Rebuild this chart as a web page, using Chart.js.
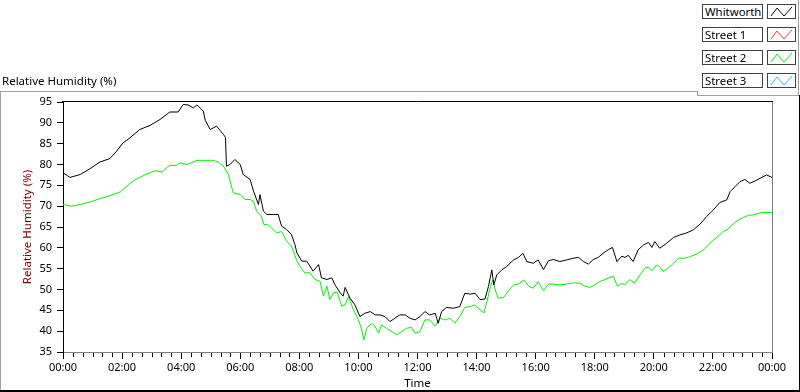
<!DOCTYPE html>
<html><head><meta charset="utf-8">
<script src="https://cdn.jsdelivr.net/npm/chart.js@4.4.1/dist/chart.umd.min.js"></script>
<style>
html,body{margin:0;padding:0;background:#fff;overflow:hidden}
#wrap{position:relative;width:800px;height:392px;font-family:"Noto Sans",sans-serif}
canvas{position:absolute;left:0;top:0}
.ln{position:absolute;pointer-events:none}
.lab{position:absolute;left:702px;width:61px;height:15px;box-sizing:border-box;border:1px solid #404040;font-size:11.4px;line-height:13px;padding-left:2px;color:#000;white-space:nowrap;overflow:hidden;background:#fff}
.sw{position:absolute;left:767px;width:29px;height:15px;box-sizing:border-box;border:1px solid #404040;background:#fff}
.sw svg{position:absolute;left:0;top:0}
#title{position:absolute;left:2px;top:74px;font-size:11.5px;line-height:14px;color:#000;white-space:nowrap}
</style></head>
<body>
<div id="wrap">
<canvas id="c" width="800" height="392"></canvas>
<div id="title">Relative Humidity (%)</div>
<div class="ln" style="left:0;top:91px;width:698px;height:1px;background:#a0a0a0"></div>
<div class="ln" style="left:697px;top:91px;width:1px;height:5px;background:#a0a0a0"></div>
<div class="ln" style="left:697px;top:95px;width:102px;height:1px;background:#a0a0a0"></div>
<div class="ln" style="left:798px;top:0;width:1px;height:96px;background:#a0a0a0"></div>
<div class="ln" style="left:0;top:91px;width:1px;height:301px;background:#a0a0a0"></div>
<div class="ln" style="left:0;top:390px;width:800px;height:2px;background:#000"></div>
<div class="ln" style="left:799px;top:95px;width:1px;height:297px;background:#000"></div>
<div id="legend"></div>
</div>
<script>
// ---- data ----
const seriesNames = ['Whitworth', 'Street 1', 'Street 2', 'Street 3'];
const seriesColors = ['#000000', '#ff3a3a', '#00f000', '#30b8ff'];
const xTickLabels = ['00:00','02:00','04:00','06:00','08:00','10:00','12:00','14:00','16:00','18:00','20:00','22:00','00:00'];
const minorStep = 20; // minutes between minor x ticks

// minutes since midnight
const timeW = [0,14,35,55,75,95,109,122,136,156,
177,197,217,234,244,254,265,272,282,285,
289,299,312,326,330,332,339,349,360,366,
380,387,397,400,407,414,427,437,444,454,
464,471,475,485,495,508,519,525,536,546,
552,563,569,573,583,593,603,613,624,634,
644,654,664,674,684,695,705,715,725,735,
745,756,762,769,779,793,806,816,827,837,
847,857,864,871,875,881,891,901,915,925,
934,942,955,965,976,986,996,1009,1023,1036,
1047,1057,1067,1077,1087,1097,1108,1116,1125,1135,
1141,1148,1158,1168,1179,1189,1196,1202,1212,1226,
1240,1253,1267,1280,1294,1307,1321,1334,1348,1355,
1365,1375,1385,1395,1405,1416,1429,1440];
const whitworth = [78.0,76.9,77.6,79.0,80.6,81.4,83.2,85.2,86.4,88.4,
89.4,90.8,92.6,92.6,94.4,94.3,93.6,94.3,93.2,92.8,
90.6,88.4,89.2,87.2,86.5,79.6,80.0,81.2,80.0,77.6,
76.4,73.6,70.4,72.8,68.8,68.0,68.0,68.0,65.2,64.4,
63.2,60.8,58.8,56.8,56.8,54.4,56.0,52.8,52.4,52.8,
51.2,49.2,48.4,50.5,47.9,46.3,43.5,44.3,44.7,43.9,
43.9,43.5,42.3,43.1,43.9,43.9,43.1,42.7,43.5,44.7,
43.9,44.3,41.9,44.7,45.7,45.5,45.9,49.1,48.9,49.1,
47.6,47.7,50.7,54.7,51.1,53.5,54.7,55.5,57.1,57.7,
58.7,56.7,56.3,57.1,54.8,56.9,57.2,56.7,57.1,57.5,
57.7,56.7,56.1,57.2,57.7,58.7,59.6,60.1,56.7,58.0,
57.7,58.2,56.7,59.5,60.7,61.3,60.1,61.5,59.9,61.1,
62.5,63.1,63.6,64.3,65.7,67.5,69.1,70.9,71.5,73.5,
74.7,75.9,76.4,75.5,76.0,76.7,77.5,76.9];

const timeS2 = [0,17,35,55,75,95,116,130,143,156,
170,187,201,217,231,238,252,265,272,286,
305,315,326,336,343,346,360,370,380,387,
393,403,408,417,427,434,444,454,464,475,
481,491,502,512,522,529,536,542,549,557,
566,573,580,590,600,606,611,617,627,634,
641,647,657,668,678,688,698,708,715,725,
735,745,756,766,776,786,796,806,816,827,
837,847,855,862,868,873,878,884,895,905,
915,925,936,946,955,965,976,986,996,1009,
1023,1036,1050,1060,1070,1080,1090,1101,1111,1118,
1126,1135,1141,1151,1161,1172,1182,1189,1196,1206,
1212,1219,1229,1240,1250,1263,1274,1287,1301,1314,
1328,1341,1351,1361,1372,1382,1392,1402,1416,1429,
1440];
const street2 = [70.4,70.0,70.4,71.0,71.8,72.5,73.4,74.8,76.1,76.9,
77.7,78.5,78.2,79.8,79.8,80.4,80.0,80.6,81.0,81.0,
81.0,80.6,79.6,77.6,74.4,73.2,72.8,71.6,71.6,71.2,
68.8,67.6,65.6,65.5,64.4,63.6,63.9,61.7,60.4,56.9,
55.6,54.0,54.0,52.4,52.0,48.4,50.8,47.6,49.2,49.4,
46.0,46.3,48.3,45.1,42.7,40.7,37.9,40.7,41.9,41.1,
39.5,41.5,40.7,39.9,39.1,39.9,40.7,40.9,39.5,39.9,
42.7,42.7,41.2,43.1,42.7,43.1,41.9,43.5,45.7,45.9,
46.3,45.1,44.4,47.5,50.7,52.3,49.9,47.9,48.1,49.7,
51.1,51.3,52.3,50.8,50.3,51.9,49.7,51.3,51.3,51.1,
51.3,51.6,51.5,50.8,50.5,51.1,51.9,52.4,52.9,53.2,
50.8,51.5,51.1,52.4,51.5,53.5,55.1,55.4,54.5,55.9,
55.5,54.3,55.1,56.3,57.5,57.5,57.9,58.5,59.5,61.1,
62.5,63.9,64.5,65.7,66.7,67.3,67.8,67.9,68.4,68.5,
68.5];
const street1 = [];
const street3 = [];

// ---- legend (HTML) ----
const legendEl = document.getElementById('legend');
seriesNames.forEach((n, i) => {
  const top = 4 + 23 * i;
  const lab = document.createElement('div');
  lab.className = 'lab'; lab.style.top = top + 'px'; lab.textContent = n;
  legendEl.appendChild(lab);
  const sw = document.createElement('div');
  sw.className = 'sw'; sw.style.top = top + 'px';
  sw.innerHTML = '<svg width="27" height="13"><polyline points="3,11 9,3 16,11 24,2" fill="none" stroke="' + seriesColors[i] + '" stroke-width="1"/></svg>';
  legendEl.appendChild(sw);
});

// ---- chart ----
const pts = (t, v) => t.map((tt, i) => ({x: tt, y: v[i]}));
const FONT = '"Noto Sans", sans-serif';

const framePlugin = {
  id: 'frame',
  afterDraw(chart) {
    const {ctx, chartArea: a, scales: {x}} = chart;
    ctx.save();
    ctx.lineWidth = 1;
    ctx.strokeStyle = '#000';
    ctx.beginPath();
    ctx.moveTo(Math.round(a.left) - 1, Math.round(a.top) - 0.5);
    ctx.lineTo(Math.round(a.right) + 1, Math.round(a.top) - 0.5);
    ctx.stroke();
    ctx.strokeStyle = '#808080';
    ctx.beginPath();
    ctx.moveTo(Math.round(a.right) + 0.5, a.top);
    ctx.lineTo(Math.round(a.right) + 0.5, a.bottom + 1);
    ctx.stroke();
    ctx.strokeStyle = '#000';
    for (let m = 0; m <= 1440; m += minorStep) {
      if (m % 120 === 0) continue;
      const px = Math.round(x.getPixelForValue(m)) + 0.5;
      ctx.beginPath();
      ctx.moveTo(px, a.bottom + 1);
      ctx.lineTo(px, a.bottom + 5);
      ctx.stroke();
    }
    ctx.restore();
  }
};

new Chart(document.getElementById('c'), {
  type: 'line',
  data: {
    datasets: [
      {label: seriesNames[0], data: pts(timeW, whitworth), borderColor: seriesColors[0]},
      {label: seriesNames[1], data: street1, borderColor: seriesColors[1]},
      {label: seriesNames[2], data: pts(timeS2, street2), borderColor: seriesColors[2]},
      {label: seriesNames[3], data: street3, borderColor: seriesColors[3]}
    ].map(d => Object.assign(d, {borderWidth: 1, pointRadius: 0, tension: 0, fill: false}))
  },
  options: {
    responsive: false,
    animation: false,
    devicePixelRatio: 1,
    layout: {padding: {top: 102, right: 28, bottom: 1, left: 0}},
    plugins: {legend: {display: false}, tooltip: {enabled: false}},
    scales: {
      x: {
        type: 'linear', min: 0, max: 1440,
        ticks: {stepSize: 120, maxTicksLimit: 30, autoSkip: false, maxRotation: 0, color: '#000',
                font: {family: FONT, size: 11}, padding: 2,
                callback: (v, i) => xTickLabels[i]},
        grid: {drawOnChartArea: false, drawTicks: true, tickLength: 7, color: '#000'},
        border: {display: true, color: '#808080', width: 1},
        title: {display: true, text: 'Time', color: '#000', font: {family: FONT, size: 11.5}, padding: {top: 0, bottom: 0}},
        afterFit(s) { s.height = 39; }
      },
      y: {
        min: 35, max: 95,
        ticks: {stepSize: 5, maxTicksLimit: 30, color: '#000', font: {family: FONT, size: 11}, padding: 5},
        grid: {drawOnChartArea: false, drawTicks: true, tickLength: 6, color: '#000'},
        border: {display: true, color: '#000', width: 1},
        title: {display: true, text: 'Relative Humidity (%)', color: '#7a0000', font: {family: FONT, size: 11.5}, padding: {top: 21, bottom: 0}},
        afterFit(s) { s.width = 63; }
      }
    }
  },
  plugins: [framePlugin]
});
</script>
</body></html>
